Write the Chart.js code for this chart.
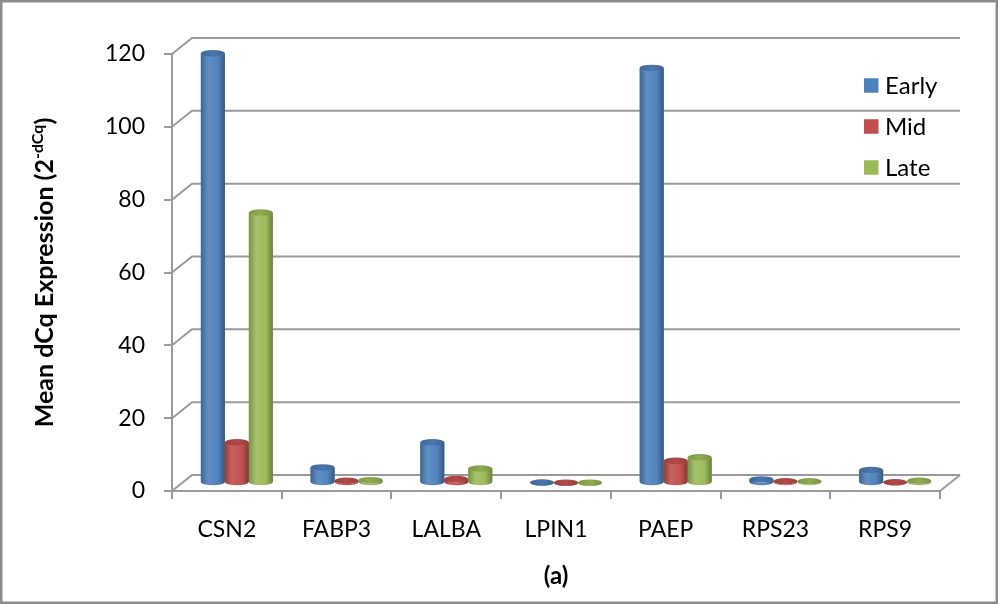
<!DOCTYPE html>
<html>
<head>
<meta charset="utf-8">
<script src="https://cdn.jsdelivr.net/npm/chart.js@4.4.1/dist/chart.umd.min.js"></script>
<style>
  html, body { margin: 0; padding: 0; background: #fff; }
  canvas { display: block; }
</style>
</head>
<body>
<canvas id="chart" width="998" height="604"></canvas>
<script>
// values
const categories = ["CSN2", "FABP3", "LALBA", "LPIN1", "PAEP", "RPS23", "RPS9"];
const seriesNames = ["Early", "Mid", "Late"];
const earlyValues = [118, 4.3, 11.2, 0.15, 114, 1.0, 3.6];
const midValues = [11.2, 0.6, 1.1, 0.1, 6.1, 0.5, 0.2];
const lateValues = [74.3, 0.8, 4.0, 0.1, 7.1, 0.5, 0.6];
const yTicks = [0, 20, 40, 60, 80, 100, 120];
const seriesColors = ["#4f81bd", "#c0504d", "#9bbb59"];

const FONT = "Lato";
const GRID = "#9a9a9a";
// depth offset of the back wall, bars sit half way
const DEPTH_X = 20, DEPTH_Y = -16;

function mix(hex, amt) {
  const n = parseInt(hex.slice(1), 16);
  let r = n >> 16, g = (n >> 8) & 255, b = n & 255;
  const t = amt < 0 ? 0 : 255, p = Math.abs(amt);
  r = Math.round(r + (t - r) * p);
  g = Math.round(g + (t - g) * p);
  b = Math.round(b + (t - b) * p);
  return `rgb(${r},${g},${b})`;
}

function drawCylinder(ctx, x, top, base, w, color) {
  const rx = w / 2, ry = 3.2;
  const l = x - rx, r = x + rx;
  const grad = ctx.createLinearGradient(l, 0, r, 0);
  grad.addColorStop(0, mix(color, -0.22));
  grad.addColorStop(0.3, mix(color, 0.1));
  grad.addColorStop(0.7, mix(color, 0.02));
  grad.addColorStop(1, mix(color, -0.32));
  ctx.beginPath();
  ctx.moveTo(l, top);
  ctx.lineTo(l, base);
  ctx.ellipse(x, base, rx, ry, 0, Math.PI, 0, true);
  ctx.lineTo(r, top);
  ctx.ellipse(x, top, rx, ry, 0, 0, Math.PI, false);
  ctx.closePath();
  ctx.fillStyle = grad;
  ctx.fill();
  // top face
  const tg = ctx.createLinearGradient(l, 0, r, 0);
  tg.addColorStop(0, mix(color, -0.2));
  tg.addColorStop(0.5, mix(color, -0.08));
  tg.addColorStop(1, mix(color, -0.22));
  ctx.beginPath();
  ctx.ellipse(x, top, rx, ry, 0, 0, Math.PI * 2);
  ctx.fillStyle = tg;
  ctx.fill();
}

const frame3d = {
  id: "frame3d",
  beforeDraw(chart) {
    const ctx = chart.ctx;
    ctx.save();
    ctx.strokeStyle = "#8c8c8c";
    ctx.lineWidth = 2.5;
    ctx.strokeRect(1.25, 1.25, chart.width - 2.5, chart.height - 2.5);
    ctx.restore();
  },
  beforeDatasetsDraw(chart) {
    const ctx = chart.ctx, a = chart.chartArea, y = chart.scales.y;
    ctx.save();
    ctx.strokeStyle = GRID;
    ctx.lineWidth = 2;
    ctx.beginPath();
    yTicks.forEach(v => {
      const py = y.getPixelForValue(v);
      ctx.moveTo(a.left, py);
      ctx.lineTo(a.left + DEPTH_X, py + DEPTH_Y);
      ctx.lineTo(a.right + DEPTH_X, py + DEPTH_Y);
    });
    // floor right edge
    const b = y.getPixelForValue(0);
    ctx.moveTo(a.right, b);
    ctx.lineTo(a.right + DEPTH_X, b + DEPTH_Y);
    ctx.stroke();
    ctx.restore();
    // bars sit mid-depth
    ctx.save();
    ctx.translate(DEPTH_X / 2, DEPTH_Y / 2);
  },
  afterDatasetsDraw(chart) {
    const ctx = chart.ctx;
    chart.data.datasets.forEach((ds, i) => {
      const meta = chart.getDatasetMeta(i);
      meta.data.forEach(el => {
        drawCylinder(ctx, el.x, el.y, el.base, el.width, seriesColors[i]);
      });
    });
    ctx.restore();
  },
  afterDraw(chart) {
    const ctx = chart.ctx;
    // legend
    ctx.save();
    ctx.font = `24px ${FONT}`;
    ctx.textBaseline = "alphabetic";
    chart.data.datasets.forEach((ds, i) => {
      const cy = 85.5 + i * 41;
      ctx.fillStyle = seriesColors[i];
      ctx.fillRect(864, cy - 7.25, 14.5, 14.5);
      ctx.fillStyle = "#000";
      ctx.fillText(ds.label, 885, cy + 8.5);
    });
    ctx.restore();
    // y axis title with superscript
    ctx.save();
    ctx.translate(53, (chart.chartArea.top + chart.chartArea.bottom) / 2);
    ctx.rotate(-Math.PI / 2);
    ctx.fillStyle = "#000";
    const main = "Mean dCq Expression (2", sup = "-dCq", tail = ")";
    const big = `bold 25px ${FONT}`, small = `bold 16px ${FONT}`;
    ctx.font = big;
    const w1 = ctx.measureText(main).width, w3 = ctx.measureText(tail).width;
    ctx.font = small;
    const w2 = ctx.measureText(sup).width;
    let x = -(w1 + w2 + w3) / 2;
    ctx.font = big;
    ctx.fillText(main, x, 0);
    x += w1;
    ctx.font = small;
    ctx.fillText(sup, x, -10);
    x += w2;
    ctx.font = big;
    ctx.fillText(tail, x, 0);
    ctx.restore();
  }
};

new Chart(document.getElementById("chart"), {
  type: "bar",
  data: {
    labels: categories,
    datasets: [
      { label: seriesNames[0], data: earlyValues, backgroundColor: seriesColors[0] },
      { label: seriesNames[1], data: midValues, backgroundColor: seriesColors[1] },
      { label: seriesNames[2], data: lateValues, backgroundColor: seriesColors[2] }
    ]
  },
  options: {
    responsive: false,
    animation: false,
    devicePixelRatio: 1,
    layout: { padding: { top: 54, right: 58, left: 0, bottom: 0 } },
    datasets: { bar: { barPercentage: 1, categoryPercentage: 0.656, borderWidth: 0 } },
    plugins: { legend: { display: false }, tooltip: { enabled: false } },
    scales: {
      x: {
        grid: { offset: true, drawOnChartArea: false, tickLength: 8, color: GRID, lineWidth: 2 },
        border: { display: true, color: GRID, width: 2 },
        ticks: { color: "#000", font: { family: FONT, size: 23 }, padding: 17 },
        title: {
          display: true, text: "(a)", color: "#000",
          font: { family: FONT, size: 24, weight: "bold" },
          padding: { top: 0, bottom: 13 }
        },
        afterFit(s) { s.height = 113; }
      },
      y: {
        min: 0, max: 120,
        afterBuildTicks(s) { s.ticks = yTicks.map(v => ({ value: v })); },
        grid: { drawOnChartArea: false, tickLength: 8, color: GRID, lineWidth: 2 },
        border: { display: true, color: GRID, width: 2 },
        ticks: { color: "#000", font: { family: FONT, size: 23 }, padding: 19 },
        afterFit(s) { s.width = 172; }
      }
    }
  },
  plugins: [frame3d]
});
</script>
</body>
</html>
